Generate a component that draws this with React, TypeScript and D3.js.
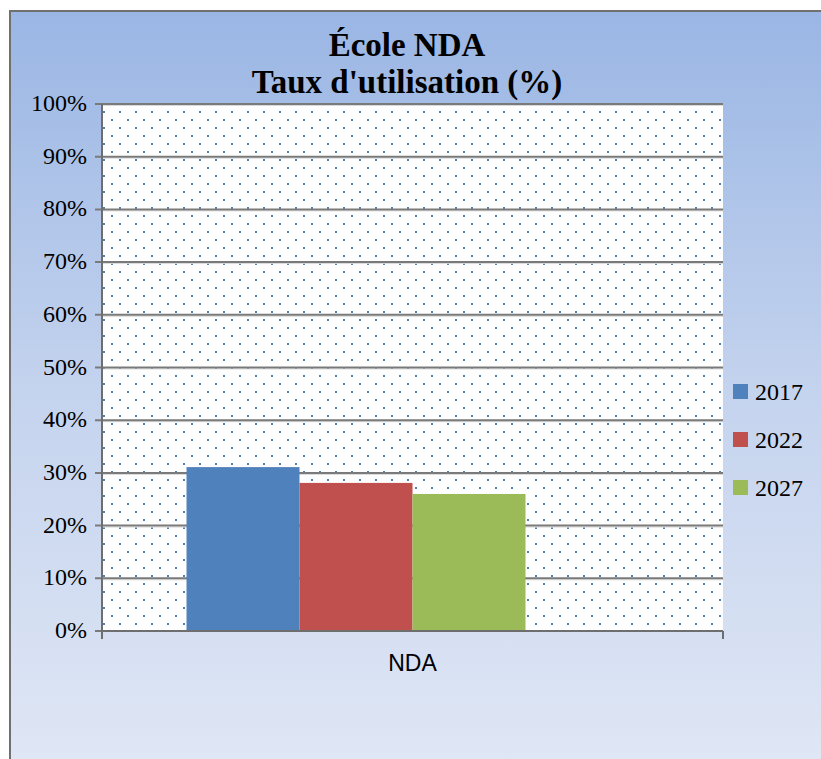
import React from "react";
import * as d3 from "d3";

const categories = ["NDA"];
const seriesNames = ["2017", "2022", "2027"];
const seriesValues = [31.1, 28.1, 26.0];
const seriesColors = ["#4F81BD", "#C0504D", "#9BBB59"];
const yTicks = [0, 10, 20, 30, 40, 50, 60, 70, 80, 90, 100];
const titleLines = ["École NDA", "Taux d'utilisation (%)"];
// the source chart reserves a fourth (empty) series slot in the cluster
const slots = [...seriesNames, ""];

export default function App() {
  const W = 821, H = 759;
  const plot = { left: 102, right: 723, top: 104, bottom: 631 };
  const y = d3.scaleLinear().domain([0, 100]).range([plot.bottom, plot.top]);
  const x0 = d3.scaleBand().domain(categories).range([plot.left, plot.right]).paddingInner(0).paddingOuter(0.187);
  const x1 = d3.scaleBand().domain(slots).range([0, x0.bandwidth()]).padding(0);
  const serif = "'Liberation Serif', 'Times New Roman', 'DejaVu Serif', serif";
  return (
    <svg width={W} height={H} style={{ position: "absolute", left: 0, top: 0 }}>
      <defs>
        <linearGradient id="bg" x1="0" y1="0" x2="0" y2="1">
          <stop offset="0" stopColor="#9AB6E4" />
          <stop offset="0.5" stopColor="#C4D3EE" />
          <stop offset="1" stopColor="#E0E7F5" />
        </linearGradient>
        <pattern id="dots" x={plot.left + 1} y={plot.top} width={16} height={16} patternUnits="userSpaceOnUse">
          <rect x={0} y={0} width={16} height={16} fill="#ffffff" />
          <rect x={0} y={7} width={2} height={2} fill="#4F81BD" />
          <rect x={8} y={15} width={2} height={2} fill="#4F81BD" />
          <rect x={8} y={-1} width={2} height={2} fill="#4F81BD" />
        </pattern>
      </defs>
      <rect x={0} y={0} width={W} height={H} fill="#ffffff" />
      <rect x={10} y={11} width={W} height={H} fill="url(#bg)" stroke="#707070" strokeWidth={2} />
      {titleLines.map((t, i) => (
        <text key={t} x={407} y={56 + i * 37} textAnchor="middle" style={{ fontFamily: serif }} fontWeight="bold" fontSize={33} fill="#000">{t}</text>
      ))}
      <rect x={plot.left} y={plot.top} width={plot.right - plot.left} height={plot.bottom - plot.top} fill="url(#dots)" />
      {yTicks.map((t) => (
        <g key={t}>
          {t > 0 && <line x1={plot.left} x2={plot.right} y1={y(t) + 1.5} y2={y(t) + 1.5} stroke="#D9D9D9" strokeWidth={1} />}
          <line x1={plot.left - 7} x2={plot.right} y1={y(t)} y2={y(t)} stroke="#7A7A7A" strokeWidth={2} />
          <text x={87} y={y(t) + 7} textAnchor="end" style={{ fontFamily: serif }} fontSize={24} fill="#000">{t}%</text>
        </g>
      ))}
      {categories.map((c) => (
        <g key={c}>
          {seriesNames.map((s, i) => (
            <rect key={s} x={(x0(c) ?? 0) + (x1(s) ?? 0)} y={y(seriesValues[i])} width={x1.bandwidth()} height={plot.bottom - y(seriesValues[i])} fill={seriesColors[i]} />
          ))}
          <text x={(x0(c) ?? 0) + x0.bandwidth() / 2} y={671} textAnchor="middle" style={{ fontFamily: "'Liberation Sans', Arial, sans-serif" }} fontSize={23} fill="#000">{c}</text>
        </g>
      ))}
      <line x1={plot.left} x2={plot.left} y1={plot.top} y2={plot.bottom + 8} stroke="#6E6E6E" strokeWidth={2} />
      <line x1={plot.left} x2={plot.right} y1={plot.bottom} y2={plot.bottom} stroke="#6E6E6E" strokeWidth={2} />
      <line x1={plot.right} x2={plot.right} y1={plot.bottom} y2={plot.bottom + 8} stroke="#6E6E6E" strokeWidth={2} />
      {seriesNames.map((s, i) => (
        <g key={s}>
          <rect x={733} y={384 + i * 48} width={15} height={15} fill={seriesColors[i]} />
          <text x={755} y={400 + i * 48} style={{ fontFamily: serif }} fontSize={24} fill="#000">{s}</text>
        </g>
      ))}
    </svg>
  );
}
